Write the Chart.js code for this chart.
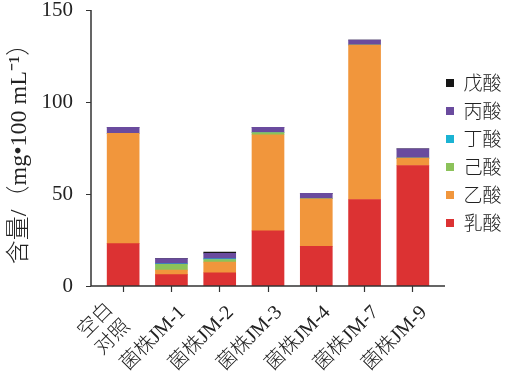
<!DOCTYPE html>
<html>
<head>
<meta charset="utf-8">
<script src="https://cdn.jsdelivr.net/npm/chart.js@4.4.1/dist/chart.umd.min.js"></script>
<style>
  html, body { margin: 0; padding: 0; background: #fff; }
  #wrap { width: 507px; height: 380px; }
</style>
</head>
<body>
<div id="wrap"><canvas id="c" width="507" height="380"></canvas></div>
<script>
// Categories (x axis)
const categories = [['空白', '对照'], '菌株JM-1', '菌株JM-2', '菌株JM-3', '菌株JM-4', '菌株JM-7', '菌株JM-9'];
// Series values (mg/100 mL), stacked bottom to top
const lacticAcid    = [23, 6.2, 7.2, 30, 21.5, 47, 65.5];   // 乳酸
const aceticAcid    = [60, 2.4, 5.8, 52.2, 25.9, 84, 4];    // 乙酸
const caproicAcid   = [0, 3.2, 1.4, 1.2, 0, 0, 0];          // 己酸
const butyricAcid   = [0, 0.3, 0.4, 0, 0, 0, 0];            // 丁酸
const propionicAcid = [3.3, 2.8, 3.0, 2.9, 2.9, 2.7, 5];    // 丙酸
const valericAcid   = [0, 0, 0.7, 0, 0, 0, 0];              // 戊酸
// Y tick values
const yTicks = [0, 50, 100, 150];

const serif = "'Liberation Serif', 'Noto Sans CJK SC', serif";

const axisPlugin = {
  id: 'axisLines',
  beforeDraw(chart) {
    // center the two-line first category label like the original
    const xs = chart.scales.x;
    const items = xs.getLabelItems(chart.chartArea);
    if (items && items[0] && Array.isArray(items[0].label)) {
      items[0].options.translation[0] -= 24;
      items[0].options.translation[1] -= 3;
    }
  },
  afterDraw(chart) {
    const ctx = chart.ctx;
    const ca = chart.chartArea;
    const y = chart.scales.y;
    const axX = ca.left - 8;
    ctx.save();
    ctx.strokeStyle = '#333';
    ctx.lineWidth = 1.5;
    ctx.beginPath();
    ctx.moveTo(axX, y.getPixelForValue(150));
    ctx.lineTo(axX, ca.bottom);
    ctx.lineTo(ca.right + 8, ca.bottom);
    ctx.stroke();
    ctx.lineWidth = 1;
    yTicks.forEach(v => {
      const py = Math.round(y.getPixelForValue(v)) + 0.5;
      ctx.beginPath();
      ctx.moveTo(axX - 5, py);
      ctx.lineTo(axX, py);
      ctx.stroke();
    });
    ctx.restore();
  }
};

new Chart(document.getElementById('c'), {
  type: 'bar',
  data: {
    labels: categories,
    datasets: [
      { label: '乳酸', data: lacticAcid, backgroundColor: '#DC3233' },
      { label: '乙酸', data: aceticAcid, backgroundColor: '#F1963C' },
      { label: '己酸', data: caproicAcid, backgroundColor: '#8CC25A' },
      { label: '丁酸', data: butyricAcid, backgroundColor: '#1BB3D3' },
      { label: '丙酸', data: propionicAcid, backgroundColor: '#6A4B9E' },
      { label: '戊酸', data: valericAcid, backgroundColor: '#151515' }
    ]
  },
  options: {
    responsive: false,
    animation: false,
    devicePixelRatio: 1,
    barThickness: 32,
    layout: { padding: { top: 10, right: 0, bottom: 0, left: 0 } },
    plugins: {
      tooltip: { enabled: false },
      legend: {
        position: 'right',
        fullSize: false,
        reverse: true,
        maxWidth: 70,
        title: { display: true, text: ' ', font: { size: 1, lineHeight: 1 }, padding: { top: 0, bottom: 9 } },
        labels: {
          boxWidth: 8,
          boxHeight: 8,
          padding: 9,
          color: '#222',
          font: { family: "'Noto Sans CJK SC'", size: 19, weight: 300 }
        }
      }
    },
    scales: {
      x: {
        stacked: true,
        border: { display: false },
        grid: { display: true, drawOnChartArea: false, drawTicks: true, tickLength: 6, offset: false, color: '#333', tickWidth: 1.2 },
        ticks: {
          color: '#222',
          minRotation: 45,
          maxRotation: 45,
          autoSkip: false,
          padding: 9,
          labelOffset: 11,
          font: { family: serif, size: 20, weight: 300 }
        },
        afterFit(scale) { scale.height = 94; scale.paddingLeft = 0; scale.paddingRight = 0; }
      },
      y: {
        stacked: true,
        min: 0,
        max: 150,
        border: { display: false },
        grid: { display: false, drawTicks: false },
        afterBuildTicks(scale) { scale.ticks = yTicks.map(v => ({ value: v })); },
        ticks: {
          color: '#222',
          padding: 26,
          font: { family: serif, size: 21 }
        },
        title: {
          display: true,
          text: '含量/（mg•100 mL⁻¹）',
          color: '#222',
          padding: { top: 5, bottom: 0 },
          font: { family: serif, size: 24, weight: 300 }
        },
        afterFit(scale) { scale.width = 99; scale.paddingTop = 0; scale.paddingBottom = 0; }
      }
    }
  },
  plugins: [axisPlugin]
});
</script>
</body>
</html>
